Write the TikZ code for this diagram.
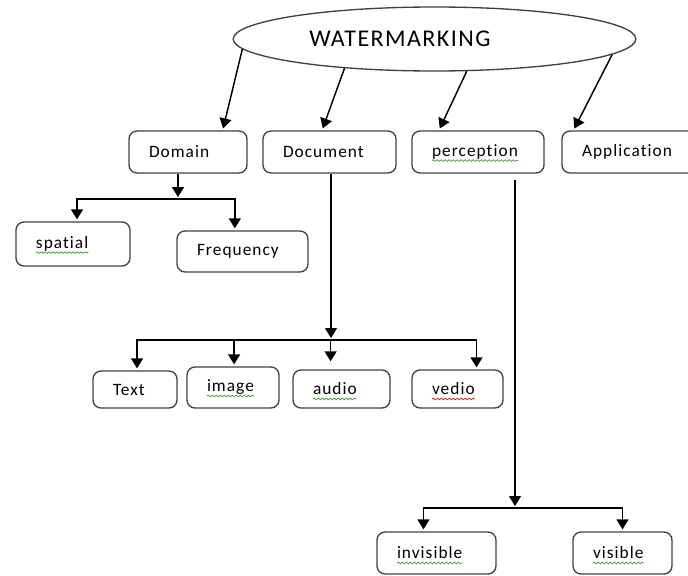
\documentclass[tikz,border=0pt]{standalone}
\usepackage{fontspec}
\setmainfont{Carlito}[LetterSpace=6,Ligatures=NoCommon]
\usetikzlibrary{shapes.geometric,arrows.meta,decorations.pathmorphing}
\definecolor{spellGreen}{rgb}{0.27 0.63 0.24}
\definecolor{spellRed}{rgb}{0.85 0.15 0.15}
\definecolor{boxLine}{rgb}{0.25 0.25 0.25}

\begin{document}
\begin{tikzpicture}[x=0.75pt,y=-0.75pt,>={Triangle[width=9pt,length=7.5pt]},
    box/.style={draw=boxLine,line width=1pt,rounded corners=6pt,inner xsep=15pt,inner ysep=0pt,align=left,font=\fontsize{13}{15}\selectfont},
    link/.style={->,line width=1.1pt,shorten >=1.5pt},
    squiggle/.style={draw=#1,line width=0.6pt,decorate,decoration={snake,amplitude=0.6pt,segment length=3pt}}]

  \useasboundingbox (0,0) rectangle (688,575);

  % draw the root
  \node[ellipse,draw=boxLine,line width=1pt,minimum width=302pt,minimum height=48pt,inner sep=0pt,font=\fontsize{18}{20}\selectfont] (wm) at (434.5,39) {WATERMARKING\hspace*{52pt}};

  % draw the boxes
  \def\boxes{
    domain/188/152/118/42/{Domain},
    document/329.5/152/133/42/{Document},
    perception/478/152/132/42/{perception},
    application/633/152/142/42/{Application},
    spatial/73/244/114/44/{spatial},
    frequency/242.5/251.5/131/41/{Frequency},
    txt/135/389.5/84/37/{Text},
    image/233/387.5/92/41/{image},
    audio/341.5/389/97/38/{audio},
    vedio/457.5/389/91/38/{vedio},
    invisible/436.5/553/119/42/{invisible},
    visible/622.5/553/99/42/{visible}
  }
  \foreach \nm/\x/\y/\w/\h/\txt in \boxes
  {
    \pgfmathsetmacro\tw{(\w-40)*0.75}
    \pgfmathsetmacro\bh{\h*0.75}
    \node[box,text width=\tw pt,minimum height=\bh pt] (\nm) at (\x,\y) {\txt};
  }

  % underline the flagged words (length of each word in pt)
  \foreach \nm/\len/\col in {perception/64.6/spellGreen, spatial/39.3/spellGreen, image/35.3/spellGreen,
      audio/32.8/spellGreen, vedio/32.1/spellRed, invisible/49.2/spellGreen, visible/37.9/spellGreen}
  \path[squiggle=\col] ([xshift=15.5pt,yshift=-3pt]\nm.base west) -- ([xshift=15.5pt+\len pt,yshift=-3pt]\nm.base west);

  % draw the links from the root
  \def\rootLinks{183.6/domain/32.5, 198.2/document/109.7, 315.8/perception/151.7, 355.1/application/160.4}
  \foreach \a/\nm/\b in \rootLinks
  \draw[link] (wm.\a) -- (\nm.\b);

  % domain split
  \coordinate (dsplit) at (178,199);
  \draw[link] (domain.south -| dsplit) -- (dsplit);
  \foreach \nm/\b in {spatial/80, frequency/110}
  \draw[link] (dsplit) -| (\nm.\b);

  % document split
  \coordinate (docsplit) at (331,340);
  \draw[link] (document.south -| docsplit) -- (docsplit);
  \foreach \nm/\b/\s in {txt/84/1.5, image/87/1.5, audio/119/6, vedio/46/1.5}
  \draw[link,shorten >=\s pt] (docsplit) -| (\nm.\b);

  % perception split
  \coordinate (psplit) at (515,508);
  \draw[link,shorten <=4.5pt] (perception.south -| psplit) -- (psplit);
  \foreach \nm/\b in {invisible/121, visible/90}
  \draw[link] (psplit) -| (\nm.\b);

\end{tikzpicture}
\end{document}
